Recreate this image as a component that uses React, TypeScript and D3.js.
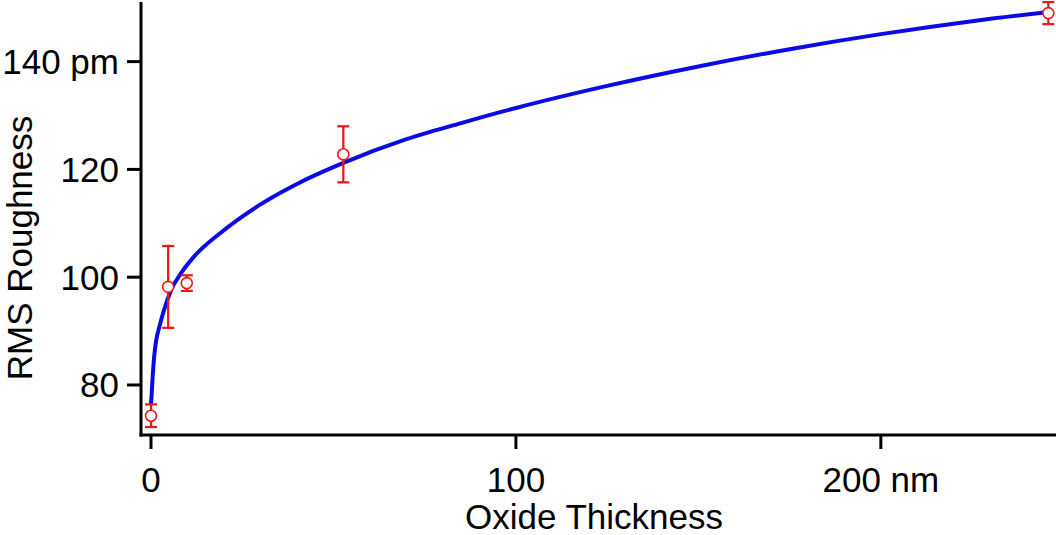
import React from "react";
import * as d3 from "d3";

// Measured data points (nm, pm) with symmetric error
const pointX = [0, 4.7, 9.8, 52.7, 245.9];
const pointY = [74.3, 98.2, 98.9, 122.8, 149.0];
const pointErr = [2.1, 7.6, 1.45, 5.2, 2.05];

// Fitted curve (nm, pm)
const curveX = [0, 0.2, 0.45, 0.9, 1.4, 2.3, 2.8, 4.1, 5.5, 8.2, 11.9, 19.2, 30, 40, 52.7, 70, 85, 100, 125, 150, 175, 200, 225, 245.9];
const curveY = [76.5, 78.5, 81.5, 85.5, 88.2, 90.8, 92.1, 95.0, 97.6, 100.7, 103.9, 108.3, 113.5, 117.3, 121.2, 125.6, 128.6, 131.4, 135.5, 139.1, 142.3, 145.1, 147.5, 149.2];

const xTicks = [0, 100, 200];
const xTickLabels = ["0", "100", "200 nm"];
const yTicks = [80, 100, 120, 140];
const yTickLabels = ["80", "100", "120", "140 pm"];

const xTitle = "Oxide Thickness";
const yTitle = "RMS Roughness";

export default function App() {
  const W = 1056;
  const H = 535;
  const axisX = 141;
  const axisY = 435;
  const top = 2;
  const x = d3.scaleLinear().domain([0, 248]).range([151, 1056]);
  const y = d3.scaleLinear().domain([70.72, 151.06]).range([axisY, top]);

  const line = d3
    .line<number>()
    .x((_, i) => x(curveX[i]))
    .y((d) => y(d))
    .curve(d3.curveMonotoneX);

  const font = "'Liberation Sans', Arial, sans-serif";
  const fs = 35;
  const red = "#f01414";
  const blue = "#0a0ae6";

  return (
    <svg
      width={W}
      height={H}
      style={{ position: "absolute", left: 0, top: 0, background: "#fff" }}
      fontFamily={font}
    >
      <rect x={0} y={0} width={W} height={H} fill="#fff" />
      {/* axes */}
      <line x1={axisX} x2={axisX} y1={top} y2={axisY + 1.5} stroke="#000" strokeWidth={3} />
      <line x1={axisX - 1.5} x2={W} y1={axisY} y2={axisY} stroke="#000" strokeWidth={3} />
      {yTicks.map((t, i) => (
        <g key={"y" + t}>
          <line x1={127} x2={axisX} y1={y(t)} y2={y(t)} stroke="#000" strokeWidth={3} />
          <text x={119} y={y(t) + 12.5} fontSize={fs} textAnchor="end" fill="#000">
            {yTickLabels[i]}
          </text>
        </g>
      ))}
      {xTicks.map((t, i) => (
        <g key={"x" + t}>
          <line x1={x(t)} x2={x(t)} y1={axisY} y2={449} stroke="#000" strokeWidth={3} />
          <text x={x(t)} y={492} fontSize={fs} textAnchor="middle" fill="#000">
            {xTickLabels[i]}
          </text>
        </g>
      ))}
      <text x={594} y={529} fontSize={fs} textAnchor="middle" fill="#000">
        {xTitle}
      </text>
      <text
        transform={`translate(32,248) rotate(-90)`}
        fontSize={fs}
        textAnchor="middle"
        fill="#000"
      >
        {yTitle}
      </text>
      {/* fitted curve */}
      <path d={line(curveY) || ""} fill="none" stroke={blue} strokeWidth={4} />
      {/* error bars and points */}
      {pointX.map((px, i) => {
        const cx = x(px);
        const y1 = y(pointY[i] + pointErr[i]);
        const y2 = y(pointY[i] - pointErr[i]);
        return (
          <g key={"p" + i} stroke={red} strokeWidth={2.2}>
            <line x1={cx} x2={cx} y1={y1} y2={y2} />
            <line x1={cx - 6} x2={cx + 6} y1={y1} y2={y1} />
            <line x1={cx - 6} x2={cx + 6} y1={y2} y2={y2} />
            <circle cx={cx} cy={y(pointY[i])} r={5.5} fill="#fff" strokeWidth={1.6} />
          </g>
        );
      })}
    </svg>
  );
}
